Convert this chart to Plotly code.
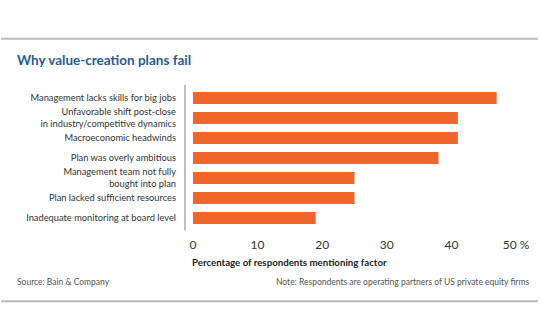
import plotly.graph_objects as go

categories = [
    "Management lacks skills for big jobs",
    "Unfavorable shift post-close<br>in industry/competitive dynamics",
    "Macroeconomic headwinds",
    "Plan was overly ambitious",
    "Management team not fully<br>bought into plan",
    "Plan lacked sufficient resources",
    "Inadequate monitoring at board level",
]
values = [47, 41, 41, 38, 25, 25, 19]
tick_vals = [0, 10, 20, 30, 40, 50]
tick_text = ["0", "10", "20", "30", "40", "50 %"]

W, H = 540, 334
L, R, T, B = 185, 530, 88, 228.5
pw, ph = R - L, B - T

def px(x):
    return (x - L) / pw

def py(y):
    return (B - y) / ph

FONT = "Lato"
fig = go.Figure(go.Bar(
    x=values, y=categories, orientation="h",
    marker=dict(color="#F0662A", line=dict(width=0)),
    width=0.6,
))

fig.update_layout(
    width=W, height=H,
    margin=dict(l=L, r=W - R, t=T, b=H - B),
    paper_bgcolor="white", plot_bgcolor="white",
    showlegend=False,
    font=dict(family=FONT, color="#333333"),
    xaxis=dict(range=[-1.23, 51.85], tickvals=tick_vals, ticktext=tick_text,
               showgrid=False, zeroline=False, showline=False,
               ticks="outside", ticklen=6, tickcolor="rgba(0,0,0,0)",
               tickfont=dict(size=12, color="#333333", family=FONT)),
    yaxis=dict(categoryorder="array", categoryarray=categories, autorange="reversed",
               showgrid=False, zeroline=False, showline=False, ticks="",
               ticklabelstandoff=8,
               tickfont=dict(size=9.3, color="#333333", family=FONT)),
)

# vertical axis line
fig.add_shape(type="line", xref="paper", yref="paper", x0=px(185), x1=px(185),
              y0=py(85), y1=py(231), line=dict(color="#aaaaaa", width=1.5))
# top and bottom rules
for yy in (38.5, 302):
    fig.add_shape(type="line", xref="paper", yref="paper", x0=px(0), x1=px(540),
                  y0=py(yy), y1=py(yy), line=dict(color="#bbbbbb", width=2))

fig.add_annotation(text="<b>Why value-creation plans fail</b>", xref="paper", yref="paper",
                   x=px(14), y=py(60), xanchor="left", yanchor="middle", showarrow=False,
                   font=dict(size=13.5, color="#1f5b99", family=FONT))
fig.add_annotation(text="<b>Percentage of respondents mentioning factor</b>", xref="paper", yref="paper",
                   x=px(190), y=py(263), xanchor="left", yanchor="middle", showarrow=False,
                   font=dict(size=9.7, color="#222222", family=FONT))
fig.add_annotation(text="Source: Bain & Company", xref="paper", yref="paper",
                   x=px(14), y=py(283), xanchor="left", yanchor="middle", showarrow=False,
                   font=dict(size=8.5, color="#555555", family=FONT))
fig.add_annotation(text="Note: Respondents are operating partners of US private equity firms", xref="paper", yref="paper",
                   x=px(533), y=py(283), xanchor="right", yanchor="middle", showarrow=False,
                   font=dict(size=8.5, color="#555555", family=FONT))

fig.write_html("out.html")
